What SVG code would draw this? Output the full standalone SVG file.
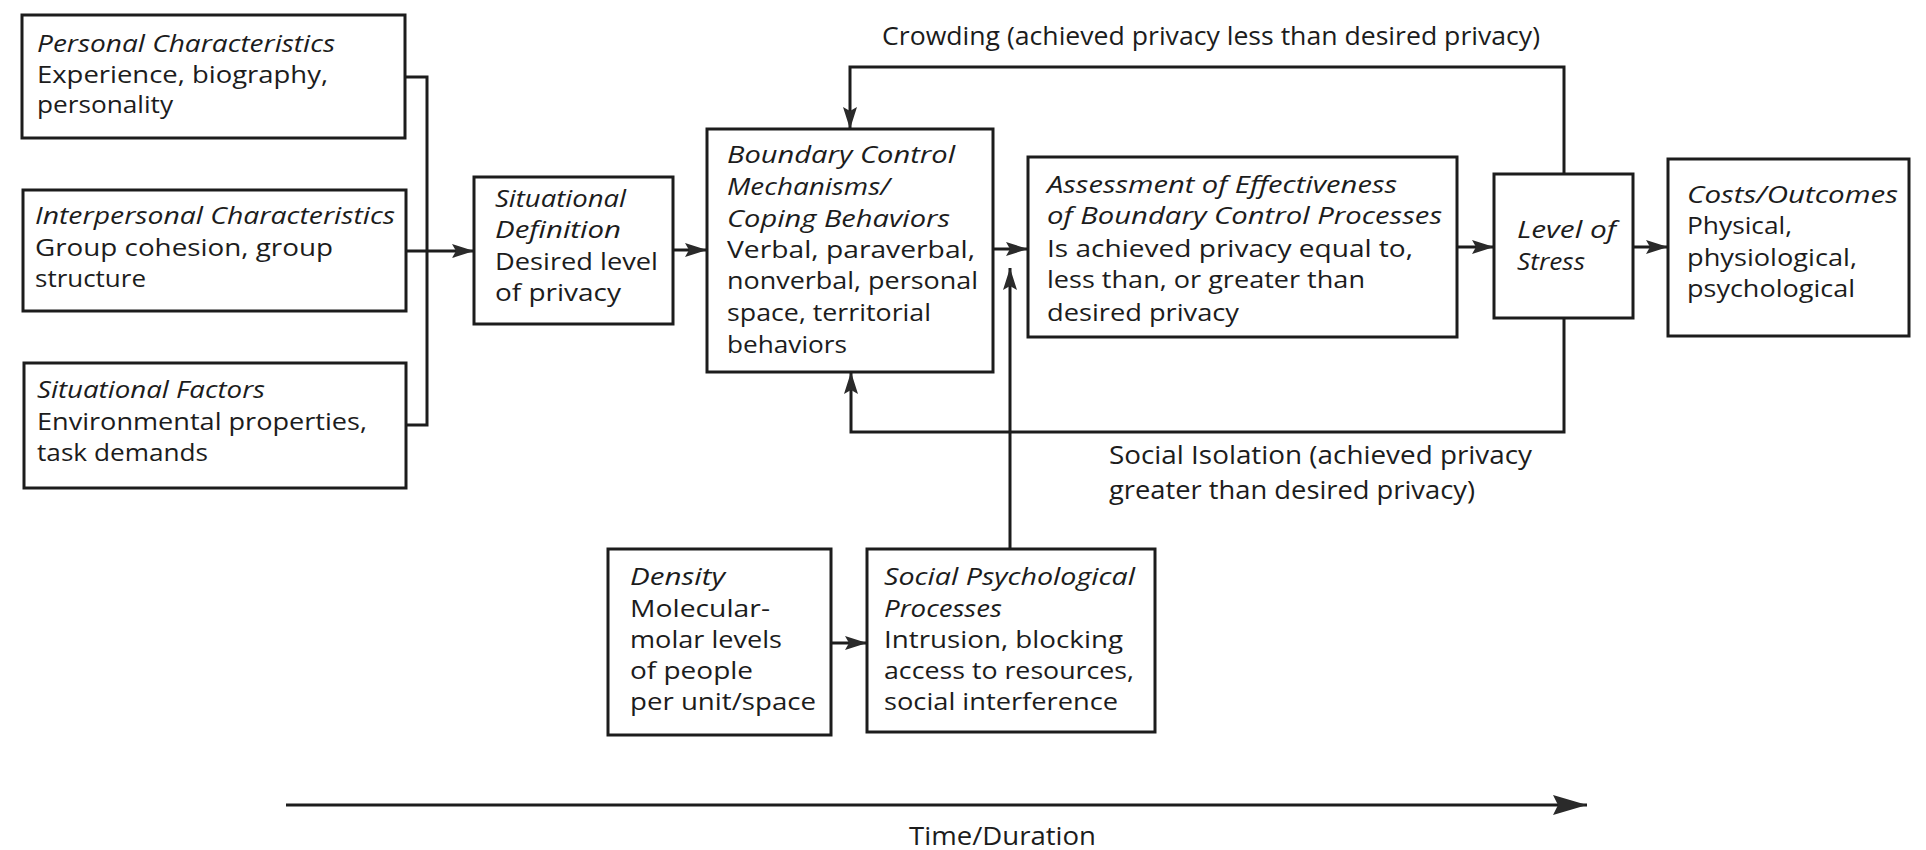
<svg xmlns="http://www.w3.org/2000/svg" width="1926" height="850" viewBox="0 0 1926 850">
  <style>
    .bg { fill: #ffffff; }
    .box { fill: #ffffff; stroke: #1c1c1c; stroke-width: 3; }
    .wire { fill: none; stroke: #1c1c1c; stroke-width: 3; }
    .t { font-family: "Open Sans", "Liberation Sans", sans-serif; font-size: 24px; fill: #1c1c1c; }
    .i { font-style: italic; }
    .lbl { font-family: "Open Sans", "Liberation Sans", sans-serif; font-size: 25px; fill: #1c1c1c; }
  </style>
  <defs>
    <marker id="ah" markerUnits="userSpaceOnUse" markerWidth="24" markerHeight="16" refX="22" refY="8" orient="auto">
      <path d="M0,1 L22,8 L0,15 L4,8 z" fill="#2a2a2a"/>
    </marker>
    <marker id="ahBig" markerUnits="userSpaceOnUse" markerWidth="36" markerHeight="22" refX="34" refY="11" orient="auto">
      <path d="M0,1 L34,11 L0,21 L5,11 z" fill="#2a2a2a"/>
    </marker>
  </defs>

  <rect class="bg" x="0" y="0" width="1926" height="850"/>

  <!-- connectors -->
  <g id="connectors">
    <!-- bracket joining the three antecedent boxes -->
    <path class="wire" d="M405,77 H427 V425 H406"/>
    <path class="wire" d="M406,251 H474" marker-end="url(#ah)"/>
    <path class="wire" d="M673,250 H707" marker-end="url(#ah)"/>
    <path class="wire" d="M993,249 H1028" marker-end="url(#ah)"/>
    <path class="wire" d="M1457,247 H1494" marker-end="url(#ah)"/>
    <path class="wire" d="M1633,247 H1668" marker-end="url(#ah)"/>
    <!-- crowding feedback loop -->
    <path class="wire" d="M1564,174 V67 H850 V129" marker-end="url(#ah)"/>
    <!-- social isolation feedback loop -->
    <path class="wire" d="M1564,318 V432 H851 V372" marker-end="url(#ah)"/>
    <!-- social psychological processes feed the assessment -->
    <path class="wire" d="M1010,549 V268" marker-end="url(#ah)"/>
    <path class="wire" d="M831,643 H867" marker-end="url(#ah)"/>
    <!-- time axis -->
    <path class="wire" d="M286,805 H1587" marker-end="url(#ahBig)"/>
  </g>

  <g id="personal">
    <rect class="box" x="22" y="15" width="383" height="123"/>
    <text class="t i" x="37" y="52" textLength="298" lengthAdjust="spacingAndGlyphs">Personal Characteristics</text>
    <text class="t" x="37" y="83" textLength="291" lengthAdjust="spacingAndGlyphs">Experience, biography,</text>
    <text class="t" x="37" y="113" textLength="136" lengthAdjust="spacingAndGlyphs">personality</text>
  </g>

  <g id="interpersonal">
    <rect class="box" x="23" y="190" width="383" height="121"/>
    <text class="t i" x="35" y="224" textLength="360" lengthAdjust="spacingAndGlyphs">Interpersonal Characteristics</text>
    <text class="t" x="35" y="256" textLength="298" lengthAdjust="spacingAndGlyphs">Group cohesion, group</text>
    <text class="t" x="35" y="287" textLength="111" lengthAdjust="spacingAndGlyphs">structure</text>
  </g>

  <g id="situational-factors">
    <rect class="box" x="24" y="363" width="382" height="125"/>
    <text class="t i" x="37" y="398" textLength="228" lengthAdjust="spacingAndGlyphs">Situational Factors</text>
    <text class="t" x="37" y="430" textLength="330" lengthAdjust="spacingAndGlyphs">Environmental properties,</text>
    <text class="t" x="37" y="461" textLength="171" lengthAdjust="spacingAndGlyphs">task demands</text>
  </g>

  <g id="situational-definition">
    <rect class="box" x="474" y="177" width="199" height="147"/>
    <text class="t i" x="495" y="207" textLength="131" lengthAdjust="spacingAndGlyphs">Situational</text>
    <text class="t i" x="495" y="238" textLength="126" lengthAdjust="spacingAndGlyphs">Definition</text>
    <text class="t" x="495" y="270" textLength="163" lengthAdjust="spacingAndGlyphs">Desired level</text>
    <text class="t" x="495" y="301" textLength="126" lengthAdjust="spacingAndGlyphs">of privacy</text>
  </g>

  <g id="boundary-control">
    <rect class="box" x="707" y="129" width="286" height="243"/>
    <text class="t i" x="727" y="163" textLength="228" lengthAdjust="spacingAndGlyphs">Boundary Control</text>
    <text class="t i" x="727" y="195" textLength="163" lengthAdjust="spacingAndGlyphs">Mechanisms/</text>
    <text class="t i" x="727" y="227" textLength="223" lengthAdjust="spacingAndGlyphs">Coping Behaviors</text>
    <text class="t" x="727" y="258" textLength="248" lengthAdjust="spacingAndGlyphs">Verbal, paraverbal,</text>
    <text class="t" x="727" y="289" textLength="251" lengthAdjust="spacingAndGlyphs">nonverbal, personal</text>
    <text class="t" x="727" y="321" textLength="204" lengthAdjust="spacingAndGlyphs">space, territorial</text>
    <text class="t" x="727" y="353" textLength="120" lengthAdjust="spacingAndGlyphs">behaviors</text>
  </g>

  <g id="assessment">
    <rect class="box" x="1028" y="157" width="429" height="180"/>
    <text class="t i" x="1047" y="193" textLength="350" lengthAdjust="spacingAndGlyphs">Assessment of Effectiveness</text>
    <text class="t i" x="1047" y="224" textLength="395" lengthAdjust="spacingAndGlyphs">of Boundary Control Processes</text>
    <text class="t" x="1047" y="257" textLength="366" lengthAdjust="spacingAndGlyphs">Is achieved privacy equal to,</text>
    <text class="t" x="1047" y="288" textLength="318" lengthAdjust="spacingAndGlyphs">less than, or greater than</text>
    <text class="t" x="1047" y="321" textLength="192" lengthAdjust="spacingAndGlyphs">desired privacy</text>
  </g>

  <g id="stress">
    <rect class="box" x="1494" y="174" width="139" height="144"/>
    <text class="t i" x="1517" y="238" textLength="99" lengthAdjust="spacingAndGlyphs">Level of</text>
    <text class="t i" x="1517" y="270" textLength="68" lengthAdjust="spacingAndGlyphs">Stress</text>
  </g>

  <g id="costs-outcomes">
    <rect class="box" x="1668" y="159" width="241" height="177"/>
    <text class="t i" x="1687" y="203" textLength="211" lengthAdjust="spacingAndGlyphs">Costs/Outcomes</text>
    <text class="t" x="1687" y="234" textLength="105" lengthAdjust="spacingAndGlyphs">Physical,</text>
    <text class="t" x="1687" y="266" textLength="170" lengthAdjust="spacingAndGlyphs">physiological,</text>
    <text class="t" x="1687" y="297" textLength="168" lengthAdjust="spacingAndGlyphs">psychological</text>
  </g>

  <g id="density">
    <rect class="box" x="608" y="549" width="223" height="186"/>
    <text class="t i" x="630" y="585" textLength="95" lengthAdjust="spacingAndGlyphs">Density</text>
    <text class="t" x="630" y="617" textLength="140" lengthAdjust="spacingAndGlyphs">Molecular-</text>
    <text class="t" x="630" y="648" textLength="152" lengthAdjust="spacingAndGlyphs">molar levels</text>
    <text class="t" x="630" y="679" textLength="123" lengthAdjust="spacingAndGlyphs">of people</text>
    <text class="t" x="630" y="710" textLength="186" lengthAdjust="spacingAndGlyphs">per unit/space</text>
  </g>

  <g id="social-psychological">
    <rect class="box" x="867" y="549" width="288" height="183"/>
    <text class="t i" x="884" y="585" textLength="251" lengthAdjust="spacingAndGlyphs">Social Psychological</text>
    <text class="t i" x="884" y="617" textLength="118" lengthAdjust="spacingAndGlyphs">Processes</text>
    <text class="t" x="884" y="648" textLength="239" lengthAdjust="spacingAndGlyphs">Intrusion, blocking</text>
    <text class="t" x="884" y="679" textLength="250" lengthAdjust="spacingAndGlyphs">access to resources,</text>
    <text class="t" x="884" y="710" textLength="234" lengthAdjust="spacingAndGlyphs">social interference</text>
  </g>

  <g id="labels">
    <text class="lbl" x="882" y="45" textLength="658" lengthAdjust="spacingAndGlyphs">Crowding (achieved privacy less than desired privacy)</text>
    <text class="lbl" x="1109" y="464" textLength="423" lengthAdjust="spacingAndGlyphs">Social Isolation (achieved privacy</text>
    <text class="lbl" x="1109" y="499" textLength="366" lengthAdjust="spacingAndGlyphs">greater than desired privacy)</text>
    <text class="lbl" x="909" y="845" textLength="187" lengthAdjust="spacingAndGlyphs">Time/Duration</text>
  </g>
</svg>
